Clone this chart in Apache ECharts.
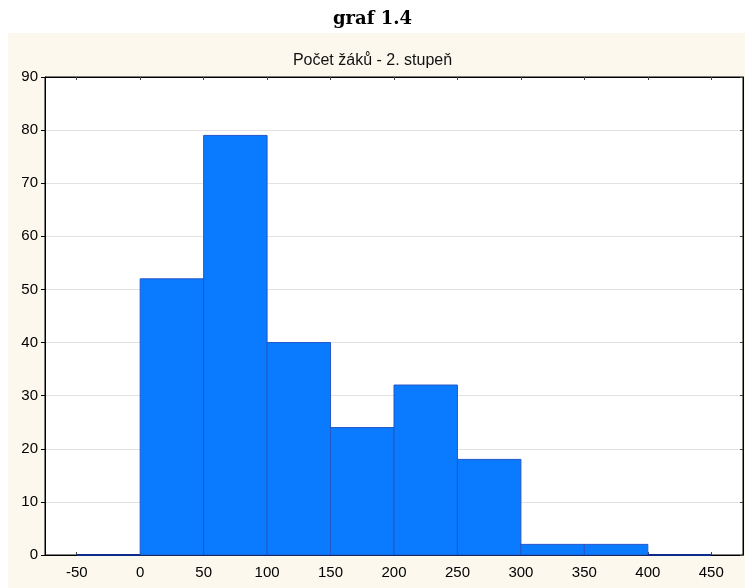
<!DOCTYPE html>
<html>
<head>
<meta charset="utf-8">
<script src="https://cdn.jsdelivr.net/npm/echarts@6/dist/echarts.min.js"></script>
<style>
  html, body { margin: 0; padding: 0; background: #fff; }
  #chart { width: 745px; height: 588px; }
</style>
</head>
<body>
<div id="chart"></div>
<script>
// histogram bins (lower edge, upper edge) and counts
const binStart = [-50, 0, 50, 100, 150, 200, 250, 300, 350, 400];
const binEnd = [0, 50, 100, 150, 200, 250, 300, 350, 400, 450];
const counts = [0, 52, 79, 40, 24, 32, 18, 2, 2, 0];
const xTicks = [-50, 0, 50, 100, 150, 200, 250, 300, 350, 400, 450];

const chart = echarts.init(document.getElementById('chart'));

const barData = binStart.map((s, i) => [s, binEnd[i], counts[i]]);

const option = {
  backgroundColor: '#ffffff',
  animation: false,
  graphic: [
    {
      type: 'rect',
      z: -10,
      shape: { x: 8, y: 33, width: 737, height: 555 },
      style: { fill: '#FCF8EE' }
    }
  ],
  title: [
    {
      text: 'graf 1.4',
      left: 'center',
      top: 5,
      textStyle: { fontFamily: 'DejaVu Serif', fontWeight: 'bold', fontSize: 18, color: '#000' }
    },
    {
      text: 'Počet žáků - 2. stupeň',
      left: 'center',
      top: 48,
      textStyle: { fontFamily: 'Liberation Sans', fontWeight: 'normal', fontSize: 16, color: '#111' }
    }
  ],
  grid: {
    left: 45, right: 2, top: 77, bottom: 33,
    show: true,
    backgroundColor: '#ffffff',
    borderColor: '#000',
    borderWidth: 1
  },
  xAxis: [
    {
      type: 'value',
      min: -75, max: 475,
      position: 'bottom',
      axisLine: { show: true, onZero: false, lineStyle: { color: '#000' } },
      axisTick: { show: true, inside: true, length: 3, lineStyle: { color: '#444' },
        customValues: xTicks },
      axisLabel: { color: '#000', fontFamily: 'Liberation Sans', fontSize: 15, margin: 10,
        customValues: xTicks },
      splitLine: { show: false }
    },
    {
      type: 'value',
      min: -75, max: 475,
      position: 'top',
      axisLine: { show: true, onZero: false, lineStyle: { color: '#000' } },
      axisTick: { show: true, inside: true, length: 3, lineStyle: { color: '#444' },
        customValues: xTicks },
      axisLabel: { show: false },
      splitLine: { show: false }
    }
  ],
  yAxis: [
    {
      type: 'value',
      min: 0, max: 90, interval: 10,
      position: 'left',
      axisLine: { show: true, onZero: false, lineStyle: { color: '#000' } },
      axisTick: { show: true, inside: false, length: 4, lineStyle: { color: '#000' } },
      axisLabel: { color: '#000', fontFamily: 'Liberation Sans', fontSize: 15, margin: 7 },
      splitLine: { show: true, lineStyle: { color: '#E2E2E2', width: 1 } }
    },
    {
      type: 'value',
      min: 0, max: 90, interval: 10,
      position: 'right',
      axisLine: { show: true, onZero: false, lineStyle: { color: '#000' } },
      axisTick: { show: true, inside: true, length: 3, lineStyle: { color: '#444' } },
      axisLabel: { show: false },
      splitLine: { show: false }
    }
  ],
  series: [
    {
      type: 'custom',
      xAxisIndex: 0,
      yAxisIndex: 0,
      data: barData,
      renderItem: function (params, api) {
        const p0 = api.coord([api.value(0), 0]);
        const p1 = api.coord([api.value(1), api.value(2)]);
        const empty = api.value(2) === 0;
        return {
          type: 'rect',
          shape: { x: p0[0], y: p1[1], width: p1[0] - p0[0], height: p0[1] - p1[1] },
          style: {
            fill: '#0A7BFF',
            stroke: empty ? '#0B2A8C' : '#2357C8',
            lineWidth: empty ? 2 : 1
          }
        };
      }
    }
  ]
};

chart.setOption(option);
</script>
</body>
</html>
